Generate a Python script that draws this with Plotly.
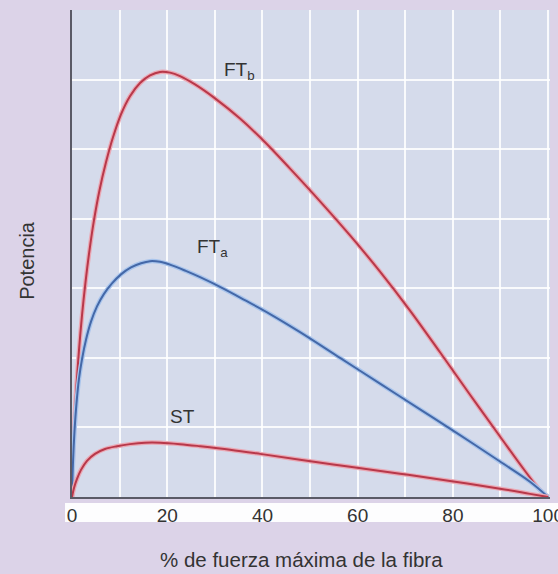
import plotly.graph_objects as go

# Power vs. % of maximal fibre force for the three muscle fibre types
ftb_x = [0, 0.21, 0.53, 0.95, 1.47, 2.10, 2.84, 3.68, 4.62, 5.78, 7.14, 8.61, 10.29,
         12.18, 14.29, 16.39, 18.49, 20.59, 22.69, 25.84, 30.04, 35.29, 40.55, 45.8,
         52.1, 58.4, 64.7, 71.0, 77.3, 83.6, 89.9, 95.2, 98.3, 100]
ftb_y = [0, 0.60, 1.11, 1.61, 2.11, 2.61, 3.09, 3.55, 3.98, 4.41, 4.81, 5.17, 5.50,
         5.76, 5.95, 6.06, 6.11, 6.10, 6.05, 5.93, 5.73, 5.44, 5.10, 4.72,
         4.25, 3.76, 3.24, 2.68, 2.08, 1.47, 0.87, 0.37, 0.10, 0]

fta_x = [0, 0.21, 0.53, 0.95, 1.47, 2.10, 2.94, 3.99, 5.25, 6.72, 8.40, 10.29, 12.39,
         14.50, 16.39, 18.49, 21.0, 23.9, 26.9, 31.1, 36.3, 41.6, 47.9, 56.3, 64.7,
         73.1, 81.5, 89.9, 96.2, 100]
fta_y = [0, 0.50, 0.95, 1.35, 1.70, 1.98, 2.26, 2.52, 2.74, 2.92, 3.07, 3.20, 3.30,
         3.36, 3.39, 3.38, 3.33, 3.25, 3.16, 3.02, 2.83, 2.63, 2.37, 2.00, 1.63,
         1.26, 0.89, 0.51, 0.22, 0]

st_x = [0, 0.42, 1.05, 1.89, 3.15, 4.83, 6.93, 9.45, 12.18, 15.34, 18.49, 22.7, 26.9,
        33.2, 39.5, 47.9, 58.4, 68.9, 79.4, 89.9, 96.2, 100]
st_y = [0, 0.13, 0.26, 0.39, 0.52, 0.62, 0.69, 0.73, 0.76, 0.78, 0.78, 0.76, 0.73,
        0.68, 0.62, 0.535, 0.435, 0.335, 0.23, 0.12, 0.045, 0]

x_ticks = [0, 20, 40, 60, 80, 100]
x_title = "% de fuerza máxima de la fibra"
y_title = "Potencia"

RED = "#b8384a"
BLUE = "#4468a8"

fig = go.Figure()

series = [(ftb_x, ftb_y, RED, "#eaa8b4"),
          (fta_x, fta_y, BLUE, "#a8c4ec"),
          (st_x, st_y, RED, "#eaa8b4")]
for xs, ys, core, halo in series:
    fig.add_trace(go.Scatter(x=xs, y=ys, mode="lines",
                             line=dict(color=halo, width=4.5, shape="spline", smoothing=1.0),
                             hoverinfo="skip", showlegend=False))
    fig.add_trace(go.Scatter(x=xs, y=ys, mode="lines",
                             line=dict(color=core, width=2, shape="spline", smoothing=1.0),
                             showlegend=False))

txt = dict(family="Liberation Sans, Arial, sans-serif", color="#333333")

fig.add_annotation(x=31.5, y=6.12, text="FT<sub>b</sub>", showarrow=False,
                   xanchor="left", yanchor="middle", font=dict(size=19, **txt))
fig.add_annotation(x=25.8, y=3.58, text="FT<sub>a</sub>", showarrow=False,
                   xanchor="left", yanchor="middle", font=dict(size=19, **txt))
fig.add_annotation(x=23.3, y=1.16, text="ST", showarrow=False,
                   xanchor="center", yanchor="middle", font=dict(size=19, **txt))

fig.add_annotation(xref="paper", yref="paper", x=0.481, y=-0.129, text=x_title,
                   showarrow=False, xanchor="center", yanchor="middle",
                   font=dict(size=20.5, **txt))
fig.add_annotation(xref="paper", yref="paper", x=-0.094, y=0.485, text=y_title,
                   showarrow=False, textangle=-90, xanchor="center", yanchor="middle",
                   font=dict(size=20, **txt))

# white strip behind the x tick labels
fig.add_shape(type="rect", xref="paper", yref="paper",
              x0=-0.0146, x1=1.02, y0=-0.0513, y1=-0.0123,
              fillcolor="#fdfdfe", line=dict(width=0), layer="below")

grid = "rgba(255,255,255,0.85)"
fig.update_xaxes(range=[0, 100.4], tickmode="array", tickvals=x_ticks,
                 ticktext=[str(v) for v in x_ticks], ticklabeloverflow="allow",
                 automargin=False,
                 showgrid=True, gridcolor=grid, gridwidth=2,
                 showline=True, linecolor="#5a5a66", linewidth=2,
                 zeroline=False, ticks="", tickfont=dict(size=19, **txt),
                 minor=dict(tickvals=[10, 30, 50, 70, 90], showgrid=True,
                            gridcolor=grid, gridwidth=2))
fig.update_yaxes(range=[0, 7], tickvals=[1, 2, 3, 4, 5, 6], showticklabels=False,
                 automargin=False,
                 showgrid=True, gridcolor=grid, gridwidth=2,
                 showline=True, linecolor="#5a5a66", linewidth=2, zeroline=False, ticks="")

fig.update_layout(width=558, height=574,
                  margin=dict(l=72, r=8, t=10, b=77),
                  paper_bgcolor="#dcd3e8", plot_bgcolor="#d5dbeb",
                  showlegend=False)

fig.write_html("out.html")
